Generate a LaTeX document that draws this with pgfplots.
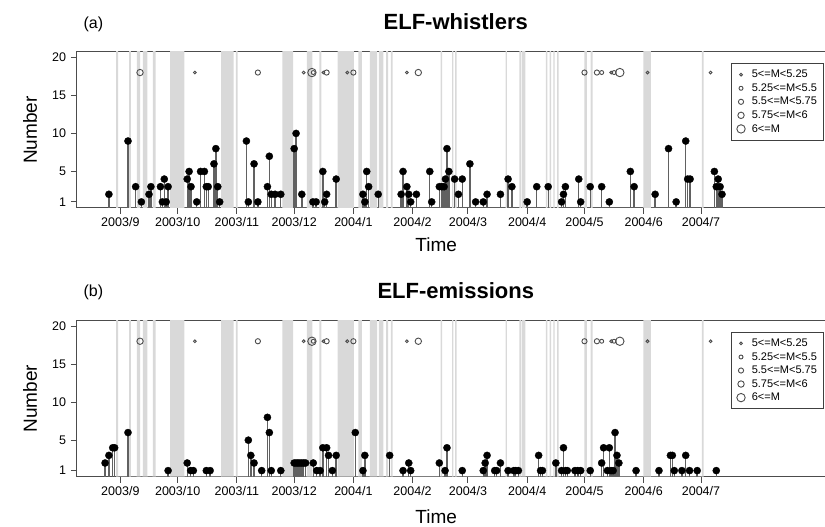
\documentclass[border=0pt]{standalone}
\usepackage{pgfplots}
\pgfplotsset{compat=1.18}
\usepackage{pgfplotstable}
\usepackage{fontspec}
\setmainfont{Liberation Sans}

% gray bands (days since 2003-09-01): start -> 21, end -> 0
\pgfplotstableread{
x y
-2.2 21
-1.2 0
4.6 21
5.5 0
8.7 21
10.3 0
11.8 21
14.2 0
17 21
18.5 0
26 21
33.5 0
52.7 21
59.3 0
60.5 21
61.4 0
84.8 21
90.4 0
97.7 21
100.5 0
104.2 21
105.3 0
113.8 21
122.2 0
124.6 21
126.5 0
130.7 21
134.4 0
135.3 21
137.7 0
139.2 21
140.2 0
141.6 21
142.5 0
167.7 21
168.4 0
173.7 21
174.3 0
175.3 21
176.1 0
201.7 21
202.3 0
208.9 21
209.7 0
210.1 21
212.1 0
222.8 21
223.6 0
224.8 21
225.5 0
226.7 21
227.4 0
228.7 21
229.4 0
243 21
244.3 0
246.2 21
247.2 0
273.8 21
277.8 0
304.4 21
305.4 0
}\bands

% earthquakes by magnitude class
\pgfplotstableread{
x y
39 18
96 18
106.3 18
118.8 18
150 18
257 18
276 18
309 18
}\eqA
\pgfplotstableread{
x y
101 18
252 18
258.5 18
}\eqB
\pgfplotstableread{
x y
72 18
108 18
122 18
243 18
249.5 18
}\eqC
\pgfplotstableread{
x y
10.3 18
156 18
}\eqD
\pgfplotstableread{
x y
100.3 18
261.5 18
}\eqE

% ELF-whistlers
\pgfplotstableread{
x y
-6 2
4 9
8 3
11 1
15 2
16 3
21 3
22 1
23 4
24 1
25 3
35 4
36 5
37 3
40 1
42 5
44 5
45 3
46 3
49 6
50 8
51 3
52 1
66 9
67 1
70 6
72 1
77 3
78 7
79 2
81 2
84 2
91 8
92 10
95 2
100.8 1
102.5 1
106 5
107 1
108 2
113 4
127 2
128 1
129 5
130 3
135 2
147 2
148 5
150 3
151 2
152 1
155 2
162 5
163 1
167 3
168.3 3
169.5 3
170.2 4
171 8
172 5
175 4
177 2
179 4
183 6
186 1
190 1
192 2
199 2
203 4
205 3
213 1
218 3
224 3
231 1
232 2
233 3
240 4
241 1
246 3
252 3
256 1
267 5
269 3
280 2
287 8
291 1
296 9
297 4
298.3 4
311 5
312 3
313 4
314 3
315 2
}\whistlers

% ELF-emissions
\pgfplotstableread{
x y
-8 2
-6 3
-4 4
-3 4
4 6
25 1
35 2
36.8 1
38.2 1
45 1
47 1
67 5
68.3 3
70 2
74 1
77 8
78 6
79 1
84 1
91 2
92 2
93 2
94 2
95 2
96 2
97 2
101 2
102.8 1
104.6 1
106 4
108 4
109 3
111 1
113 3
123 6
127 1
128 3
141 3
148 1
151 2
152 1
167 2
170 1
171 4
179 1
190 1
191 2
192 3
196 1
197 1
199 2
203 1
206 1
207 1
208.4 1
219 3
220 1
221 1
228 2
231 1
232 4
233 1
234 1
238 1
239.5 1
241 1
246 1
252 2
253 4
255 1
256 4
256.9 1
258 1
259 6
260 3
261 2
270 1
282 1
288 3
289 3
290 1
294 1
296 3
298 1
302 1
312 1
}\emissions

\pgfplotsset{
  panel/.style={
    scale only axis, width=750pt, height=156pt,
    xmin=-22.7, xmax=369.97, ymin=0.2, ymax=20.7,
    clip mode=individual,
    xtick={0,30,61,91,122,153,182,213,243,274,304},
    xticklabels={2003/9,2003/10,2003/11,2003/12,2004/1,2004/2,2004/3,2004/4,2004/5,2004/6,2004/7},
    ytick={1,5,10,15,20},
    tick align=outside, tick pos=left,
    major tick length=6pt,
    axis line style={draw=black!70, line width=1pt},
    every tick/.style={black!70, line width=1pt},
    tick label style={font=\fontsize{12.5}{14}\selectfont},
    yticklabel style={xshift=-1.5pt},
    /pgf/number format/assume math mode=true,
    every axis y label/.style={at={(axis description cs:-0.0627,0.5)}, rotate=90, anchor=center, font=\fontsize{19}{22}\selectfont},
    ylabel={Number},
    title style={font=\bfseries\fontsize{22}{26}\selectfont, anchor=base, at={(axis description cs:0.505,1.105)}},
    legend style={at={(0.996,0.929)}, anchor=north east, draw=black!75, line width=0.9pt,
      font=\fontsize{11}{13}\selectfont, inner xsep=5pt, inner ysep=5pt, row sep=1.2pt,
      nodes={inner sep=1.6pt},
      /tikz/every odd column/.append style={column sep=5pt}},
    legend cell align=left,
    band/.style={const plot, fill=black!15, draw=none, forget plot},
    stem/.style={ycomb, draw=black!62, line width=1.4pt, mark=*, mark size=3.6pt,
      mark options={fill=black, draw=black, line width=0.3pt}, forget plot},
    eq/.style={only marks, mark=o, mark options={draw=black!70, line width=0.9pt}},
  }
}

\begin{document}
\begin{tikzpicture}
\begin{axis}[panel, at={(77pt,319pt)}, anchor=south west,
  title={ELF-whistlers},
  every axis x label/.style={at={(axis description cs:0.479,-0.237)}, anchor=center, font=\fontsize{19}{22}\selectfont},
  xlabel={Time}]
  \addplot[band] table {\bands} \closedcycle;
  \addplot[eq, mark size=1.4pt] table {\eqA}; \addlegendentry{5<=M<5.25}
  \addplot[eq, mark size=2.0pt] table {\eqB}; \addlegendentry{5.25<=M<5.5}
  \addplot[eq, mark size=2.6pt] table {\eqC}; \addlegendentry{5.5<=M<5.75}
  \addplot[eq, mark size=3.2pt] table {\eqD}; \addlegendentry{5.75<=M<6}
  \addplot[eq, mark size=4.2pt] table {\eqE}; \addlegendentry{6<=M}
  \addplot[stem] table {\whistlers};
  \node[anchor=base west, font=\fontsize{16}{19}\selectfont] at (axis description cs:0.004,1.153) {(a)};
\end{axis}
\begin{axis}[panel, at={(77pt,50.3pt)}, anchor=south west,
  title={ELF-emissions},
  every axis x label/.style={at={(axis description cs:0.479,-0.259)}, anchor=center, font=\fontsize{19}{22}\selectfont},
  xlabel={Time}]
  \addplot[band] table {\bands} \closedcycle;
  \addplot[eq, mark size=1.4pt] table {\eqA}; \addlegendentry{5<=M<5.25}
  \addplot[eq, mark size=2.0pt] table {\eqB}; \addlegendentry{5.25<=M<5.5}
  \addplot[eq, mark size=2.6pt] table {\eqC}; \addlegendentry{5.5<=M<5.75}
  \addplot[eq, mark size=3.2pt] table {\eqD}; \addlegendentry{5.75<=M<6}
  \addplot[eq, mark size=4.2pt] table {\eqE}; \addlegendentry{6<=M}
  \addplot[stem] table {\emissions};
  \node[anchor=base west, font=\fontsize{16}{19}\selectfont] at (axis description cs:0.004,1.153) {(b)};
\end{axis}
\pgfresetboundingbox
\path (0pt,0pt) rectangle (825pt,527pt);
\end{tikzpicture}
\end{document}
